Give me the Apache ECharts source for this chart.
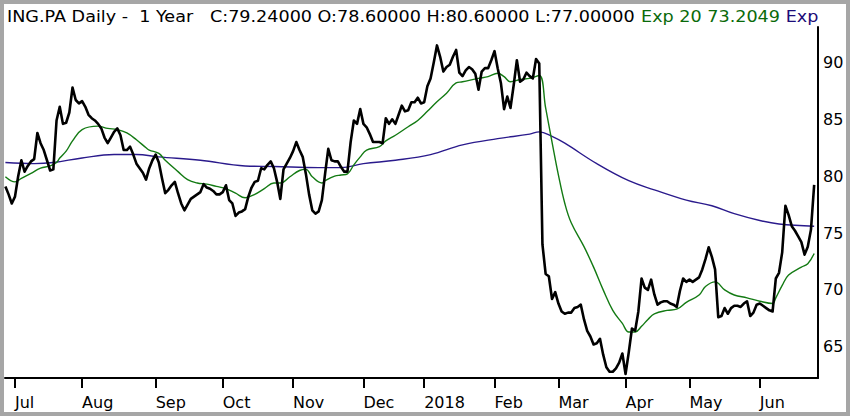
<!DOCTYPE html>
<html>
<head>
<meta charset="utf-8">
<script src="https://cdn.jsdelivr.net/npm/echarts@6/dist/echarts.min.js"></script>
<style>
html,body{margin:0;padding:0;background:#fff;}
#chart{width:850px;height:416px;}
</style>
</head>
<body>
<div id="chart"></div>
<script>
// Trading-day index of the first session of each month (Jul 2017 .. Jun 2018)
const monthIdx = [3, 24, 47, 68, 90, 112, 131, 153, 173, 194, 214, 236];
const monthLabels = ['Jul','Aug','Sep','Oct','Nov','Dec','2018','Feb','Mar','Apr','May','Jun'];
const yTicks = [65, 70, 75, 80, 85, 90];

// Daily closes, one per trading day (28 Jun 2017 .. 26 Jun 2018)
const closes = [
  79.1, 78.4, 77.6, 78.2, 80.0, 81.4, 80.4, 80.9, 81.3, 81.5,
  83.8, 82.9, 82.3, 81.4, 80.5, 80.6, 84.9, 86.1, 84.6, 84.7,
  85.6, 87.8, 86.7, 86.4, 86.6, 86.1, 85.4, 85.1, 84.9, 84.6,
  84.2, 83.4, 82.9, 83.4, 83.9, 84.2, 83.6, 82.3, 82.3, 82.6,
  81.9, 81.1, 80.7, 80.3, 79.7, 80.7, 81.4, 81.9, 81.2, 79.8,
  78.5, 78.8, 79.2, 79.5, 78.5, 77.6, 77.0, 77.5, 78.0, 78.2,
  78.4, 78.6, 79.3, 79.0, 78.9, 78.7, 78.4, 78.4, 78.6, 79.2,
  77.9, 77.6, 76.5, 76.8, 76.9, 77.1, 78.2, 79.0, 79.5, 79.6,
  80.7, 80.6, 81.0, 81.3, 80.7, 79.5, 78.0, 80.6, 81.1, 81.6,
  82.2, 83.0, 82.3, 81.7, 80.2, 78.4, 77.0, 76.7, 76.9, 77.9,
  80.2, 82.4, 81.4, 81.3, 81.3, 80.8, 80.4, 80.4, 83.0, 84.9,
  84.6, 85.9, 84.6, 84.3, 83.7, 83.0, 83.0, 83.0, 82.9, 85.1,
  84.6, 85.0, 84.6, 85.4, 86.2, 85.7, 85.8, 86.5, 86.5, 86.9,
  86.4, 86.5, 87.9, 88.6, 90.0, 91.5, 90.5, 89.2, 89.6, 89.8,
  90.5, 91.1, 89.1, 88.8, 89.3, 89.6, 89.4, 89.0, 87.6, 89.2,
  89.5, 89.5, 90.2, 91.0, 89.5, 88.2, 85.9, 87.0, 86.0, 88.0,
  90.2, 88.3, 88.5, 89.1, 88.8, 88.6, 90.3, 89.9, 74.0, 71.4,
  71.2, 69.2, 69.8, 68.8, 68.1, 67.9, 68.0, 68.0, 68.4, 68.5,
  68.7, 67.4, 66.4, 65.9, 65.2, 65.3, 65.7, 64.3, 63.2, 62.8,
  62.8, 63.1, 63.6, 64.4, 62.6, 64.5, 66.6, 66.4, 68.1, 71.0,
  70.2, 70.0, 70.9, 69.6, 68.7, 68.9, 69.0, 69.0, 68.8, 68.7,
  68.5, 69.9, 71.0, 70.7, 70.9, 70.7, 70.9, 71.1, 71.8, 72.7,
  73.75, 72.9, 71.8, 67.6, 67.7, 68.4, 67.9, 68.4, 68.6, 68.6,
  68.5, 68.8, 69.0, 67.7, 68.0, 68.7, 68.8, 68.6, 68.4, 68.2,
  68.1, 71.0, 71.5, 73.3, 77.4, 76.6, 75.6, 75.2, 74.7, 74.2,
  73.1, 73.8, 75.3, 79.24
];

// Exp 20 (green), read at selected trading-day indices
const ema20Idx = [0,3,5,8,11,14,16,17,19,21,24,29,32,35,38,41,44,45,48,50,54,57,60,63,66,69,72,75,78,81,84,86,89,92,94,96,99,100,103,105,107,109,111,113,117,119,122,126,129,132,135,138,141,143,148,151,154,156,158,161,164,167,169,171,173,175,177,181,184,187,190,193,195,197,199,201,203,207,210,213,217,219,222,225,228,232,236,240,241,243,245,249,251,253];
const ema20Val = [79.95,79.5,79.8,80.25,80.7,80.9,81.2,81.6,82.2,83.1,84.1,84.4,84.2,84.1,83.8,83.2,82.5,82.3,82.0,81.4,80.4,79.7,79.4,79.3,79.1,78.9,78.5,78.1,78.4,78.9,79.4,79.4,79.95,80.5,80.6,79.95,79.4,79.6,80.0,80.1,80.2,81.0,81.7,82.3,82.6,83.1,83.6,84.35,84.9,85.7,86.55,87.3,88.2,88.3,88.6,88.75,89.05,88.75,88.3,88.5,88.6,88.85,86.0,83.0,80.1,77.6,75.9,73.8,72.0,70.0,68.2,67.05,66.3,66.3,66.8,67.4,67.9,68.2,68.3,68.9,69.55,70.3,70.7,70.0,69.55,69.3,69.0,68.8,69.3,70.4,71.3,72.0,72.3,73.2];

// Long exponential average (blue), read at selected trading-day indices
const emaLongIdx = [0,9,15,24,34,41,48,61,75,84,98,105,112,122,133,143,154,164,167,171,175,185,195,203,213,221,228,236,242,253];
const emaLongVal = [81.2,81.1,81.2,81.6,81.9,81.9,81.7,81.4,80.9,80.85,80.75,80.75,81.1,81.4,81.9,82.75,83.3,83.7,83.9,83.5,82.9,81.1,79.6,78.8,77.9,77.4,76.7,76.1,75.8,75.6];

const chart = echarts.init(document.getElementById('chart'), null, {renderer: 'svg'});
const FONT = 'DejaVu Sans';

chart.setOption({
  animation: false,
  backgroundColor: '#ffffff',
  graphic: [
    {
      type: 'text',
      silent: true,
      x: 7,
      y: 8,
      scaleX: 1.1,
      z: 50,
      style: {
        text: '{a|ING.PA Daily -  1 Year   C:79.24000 O:78.60000 H:80.60000 L:77.00000 }{g|Exp 20 73.2049 }{b|Exp}',
        fontFamily: FONT,
        fontSize: 16,
        fontWeight: 'normal',
        verticalAlign: 'top',
        align: 'left',
        rich: {
          a: {fill: '#000000', fontFamily: FONT, fontSize: 16, fontWeight: 'normal'},
          g: {fill: '#0a6a0a', fontFamily: FONT, fontSize: 16, fontWeight: 'normal'},
          b: {fill: '#1c0c78', fontFamily: FONT, fontSize: 16, fontWeight: 'normal'}
        }
      }
    },
    {
      type: 'rect',
      silent: true,
      z: 100,
      shape: {x: 0, y: 0, width: 850, height: 416},
      style: {fill: 'none', stroke: '#a6a6a6', lineWidth: 8}
    }
  ],
  grid: {left: 5, right: 32, top: 27, bottom: 38, containLabel: false},
  xAxis: {
    type: 'value',
    min: -0.125,
    max: 254.2,
    splitLine: {show: false},
    axisLine: {show: true, onZero: false, lineStyle: {color: '#000', width: 2}},
    axisTick: {show: true, customValues: monthIdx, length: 10, lineStyle: {color: '#000', width: 2}},
    axisLabel: {
      customValues: monthIdx,
      formatter: function (v) { const k = monthIdx.indexOf(Math.round(v)); return k >= 0 ? monthLabels[k] : ''; },
      align: 'left',
      margin: 16,
      color: '#000',
      fontFamily: FONT,
      fontSize: 16
    }
  },
  yAxis: {
    type: 'value',
    position: 'right',
    min: 62.25,
    max: 93.12,
    splitLine: {show: false},
    axisLine: {show: true, onZero: false, lineStyle: {color: '#000', width: 2}},
    axisTick: {show: false, customValues: yTicks},
    axisLabel: {
      customValues: yTicks,
      margin: 5,
      color: '#000',
      fontFamily: FONT,
      fontSize: 16
    }
  },
  series: [
    {
      type: 'line',
      name: 'Exp long',
      data: emaLongIdx.map((x, k) => [x, emaLongVal[k]]),
      smooth: 0.4,
      showSymbol: false,
      lineStyle: {color: '#2a1a8c', width: 1.4},
      z: 2
    },
    {
      type: 'line',
      name: 'Exp 20',
      data: ema20Idx.map((x, k) => [x, ema20Val[k]]),
      smooth: 0.4,
      showSymbol: false,
      lineStyle: {color: '#137a13', width: 1.4},
      z: 3
    },
    {
      type: 'line',
      name: 'Close',
      data: closes.map((v, i) => [i, v]),
      showSymbol: false,
      lineStyle: {color: '#000000', width: 2.6, join: 'round'},
      z: 4
    }
  ]
});
</script>
</body>
</html>
